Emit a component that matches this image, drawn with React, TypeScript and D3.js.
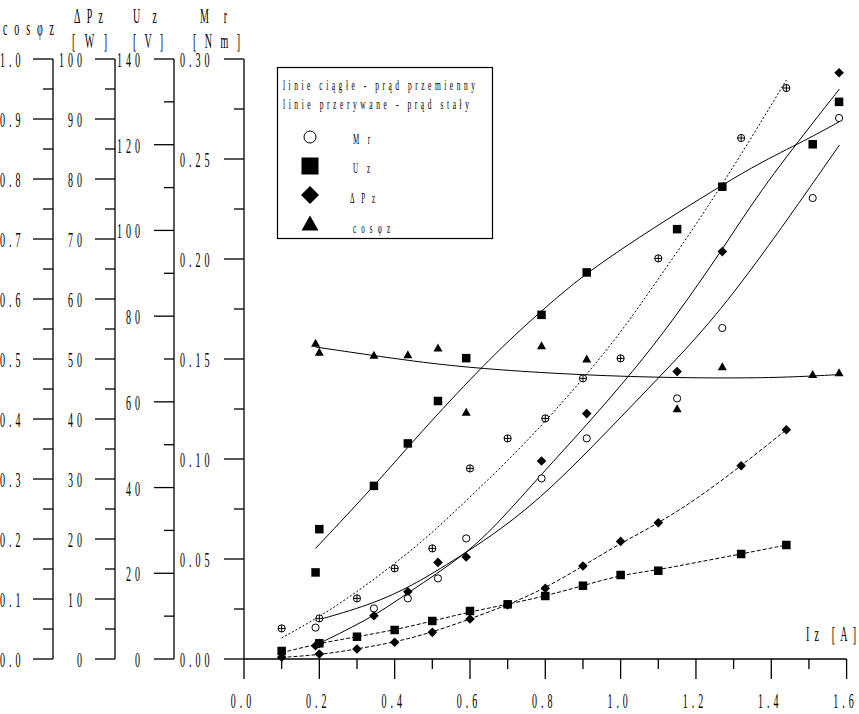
import React from 'react';
import * as d3 from 'd3';

// ---------- measured points: alternating current (AC) ----------
const acIz = [0.19, 0.2, 0.345, 0.435, 0.515, 0.59, 0.79, 0.91, 1.15, 1.27, 1.51, 1.58];
const acUz = [20.2, 30.3, 40.4, 50.3, 60.2, 70.2, 80.3, 90.2, 100.3, 110.2, 120.1, 130.0];
const acMr = [0.0157, null, 0.0253, 0.0303, 0.0403, 0.0603, 0.0903, 0.1103, 0.1303, 0.1655, 0.2305, 0.2705];
const acDPz = [2.2, 2.6, 7.2, 11.2, 16.1, 17.0, 33.0, 40.9, 47.9, 67.9, null, 97.7];
const acCos = [0.527, 0.512, 0.507, 0.508, 0.519, 0.412, 0.523, 0.501, 0.418, 0.488, 0.475, 0.478];

// ---------- measured points: direct current (DC) ----------
const dcIz = [0.1, 0.2, 0.3, 0.4, 0.5, 0.6, 0.7, 0.8, 0.9, 1.0, 1.1, 1.32, 1.44];
const dcUz = [1.87, 3.66, 5.2, 6.77, 8.87, 11.2, 12.76, 14.7, 17.1, 19.6, 20.6, 24.5, 26.6];
const dcMr = [0.0153, 0.0203, 0.0303, 0.0453, 0.0553, 0.0953, 0.1103, 0.1203, 0.1403, 0.1503, 0.2003, 0.2605, 0.2855];
const dcDPz = [0.3, 0.83, 1.67, 2.78, 4.44, 6.67, 9.0, 11.8, 15.5, 19.6, 22.7, 32.2, 38.2];

// ---------- trend curves ----------
const fitUzAcX = [0.19, 0.346, 0.467, 0.627, 0.733, 0.839, 0.91, 1.016, 1.149, 1.27, 1.37, 1.512, 1.581];
const fitUzAcY = [25.8, 40.4, 52.7, 67.8, 76.8, 85.0, 90.0, 96.5, 104.0, 110.6, 115.8, 122.0, 125.4];
const fitMrAcX = [0.19, 0.335, 0.432, 0.503, 0.684, 0.821, 0.963, 1.113, 1.229, 1.37, 1.581];
const fitMrAcY = [0.0192, 0.027, 0.0354, 0.0429, 0.0645, 0.0862, 0.1135, 0.143, 0.166, 0.2, 0.257];
const fitPAcX = [0.19, 0.343, 0.432, 0.591, 0.68, 0.79, 0.91, 1.034, 1.14, 1.27, 1.37, 1.512, 1.581];
const fitPAcY = [2.3, 7.0, 10.9, 17.5, 23.0, 30.8, 39.0, 48.0, 56.5, 68.2, 78.0, 89.5, 95.0];
const fitCosX = [0.19, 0.47, 0.63, 0.84, 1.09, 1.33, 1.46, 1.58];
const fitCosY = [0.52, 0.494, 0.484, 0.475, 0.469, 0.468, 0.47, 0.474];
const fitMrDcX = [0.1, 0.2, 0.3, 0.4, 0.5, 0.6, 0.7, 0.8, 0.9, 1.0, 1.1, 1.2, 1.32, 1.44];
const fitMrDcY = [0.0105, 0.021, 0.0335, 0.0476, 0.063, 0.081, 0.099, 0.1187, 0.14, 0.163, 0.19, 0.217, 0.252, 0.2895];
const fitUzDcX = [0.1, 0.2, 0.3, 0.4, 0.5, 0.6, 0.7, 0.8, 0.9, 1.0, 1.1, 1.193, 1.32, 1.44];
const fitUzDcY = [1.47, 3.66, 5.2, 6.77, 8.87, 11.0, 12.76, 14.7, 17.1, 19.6, 20.8, 22.4, 24.5, 26.6];
const fitPDcX = [0.1, 0.2, 0.3, 0.4, 0.5, 0.6, 0.7, 0.8, 0.9, 1.0, 1.1, 1.21, 1.32, 1.44];
const fitPDcY = [0.28, 0.67, 1.67, 2.78, 4.45, 6.67, 9.0, 11.8, 15.5, 19.3, 22.6, 27.0, 32.2, 38.2];

// ---------- labels ----------
const xTicks = [0, 0.2, 0.4, 0.6, 0.8, 1.0, 1.2, 1.4, 1.6];
const legendLines = ['linie ciągłe - prąd przemienny', 'linie przerywane - prąd stały'];
const legendNames = ['Mr', 'Uz', 'ΔPz', 'cosφz'];

const FONT = "'Liberation Serif', 'DejaVu Serif', serif";

const W = 859, H = 714;
const TOP = 59, BOT = 659;

const x = d3.scaleLinear().domain([0, 1.6]).range([244, 846.6]);
const yCos = d3.scaleLinear().domain([0, 1]).range([BOT, TOP]);
const yP = d3.scaleLinear().domain([0, 100]).range([BOT, TOP]);
const yU = d3.scaleLinear().domain([0, 140]).range([BOT, TOP]);
const yM = d3.scaleLinear().domain([0, 0.3]).range([BOT, TOP]);

function Txt({ x, y, text, fs = 20, sx = 0.5, ls = 0, anchor = 'start', len }: any) {
  const extra: any = {};
  if (len) {
    extra.textLength = len / sx;
    extra.lengthAdjust = 'spacing';
  }
  return (
    <text
      transform={`translate(${x},${y}) scale(${sx},1)`}
      fontFamily={FONT}
      fontSize={fs}
      textAnchor={anchor}
      dominantBaseline="central"
      letterSpacing={ls || undefined}
      fill="#000"
      {...extra}
    >
      {text}
    </text>
  );
}

const Sq = ({ cx, cy, s }: any) => <rect x={cx - s / 2} y={cy - s / 2} width={s} height={s} fill="#000" />;
const Dia = ({ cx, cy, s }: any) => (
  <path d={`M${cx},${cy - s}L${cx + s},${cy}L${cx},${cy + s}L${cx - s},${cy}Z`} fill="#000" />
);
const Tri = ({ cx, cy, w, h }: any) => (
  <path d={`M${cx},${cy - h / 2}L${cx + w / 2},${cy + h / 2}L${cx - w / 2},${cy + h / 2}Z`} fill="#000" />
);
const Circ = ({ cx, cy, r }: any) => <circle cx={cx} cy={cy} r={r} fill="#fff" stroke="#000" strokeWidth={1} />;
const CircX = ({ cx, cy, r }: any) => (
  <g stroke="#000" strokeWidth={1} fill="#fff">
    <circle cx={cx} cy={cy} r={r} />
    <line x1={cx - r} x2={cx + r} y1={cy} y2={cy} />
    <line x1={cx} x2={cx} y1={cy - r} y2={cy + r} />
  </g>
);

function curve(xs: number[], ys: number[], ys2: any) {
  const pts = xs.map((v, i) => [v, ys[i]] as [number, number]);
  return d3
    .line<[number, number]>()
    .x((d) => x(d[0]))
    .y((d) => ys2(d[1]))
    .curve(d3.curveBasis)(pts) as string;
}

function pts(xs: number[], ys: (number | null)[]) {
  return xs.map((v, i) => [v, ys[i]]).filter((d) => d[1] != null) as [number, number][];
}

export default function App() {
  const yAxes = [
    { ax: 53, scale: yCos, max: 1, step: 0.05, fmt: d3.format('.1f'), lx: 0, anchor: 'start' },
    { ax: 115, scale: yP, max: 100, step: 5, fmt: d3.format('d'), lx: 86, anchor: 'end' },
    { ax: 174, scale: yU, max: 140, step: 10, fmt: d3.format('d'), lx: 144, anchor: 'end' },
    { ax: 244, scale: yM, max: 0.3, step: 0.025, fmt: d3.format('.2f'), lx: 180, anchor: 'start' },
  ];

  const lineStyle = { fill: 'none', stroke: '#000', strokeWidth: 1 } as any;

  return (
    <svg
      width={W}
      height={H}
      viewBox={`0 0 ${W} ${H}`}
      style={{ position: 'absolute', left: 0, top: 0, background: '#fff' }}
    >
      <rect x={0} y={0} width={W} height={H} fill="#fff" />

      {/* headers */}
      <Txt x={3} y={28} text="cosφz" fs={20} len={51} />
      <Txt x={74} y={16} text="ΔPz" fs={20} len={29} />
      <Txt x={72} y={41} text="[W]" fs={20} len={35} />
      <Txt x={133} y={16} text="Uz" fs={20} len={24} />
      <Txt x={133} y={41} text="[V]" fs={20} len={30} />
      <Txt x={200} y={16} text="Mr" fs={20} len={27} />
      <Txt x={193} y={41} text="[Nm]" fs={20} len={47} />

      {/* y axes */}
      {yAxes.map((a, ai) => {
        const n = Math.round(a.max / a.step);
        return (
          <g key={ai}>
            <line x1={a.ax} x2={a.ax} y1={TOP} y2={BOT} stroke="#000" strokeWidth={1.3} />
            {d3.range(n + 1).map((k) => {
              const v = k * a.step;
              const yy = a.scale(v);
              const major = k % 2 === 0;
              return (
                <g key={k}>
                  <line x1={a.ax - (major ? 20 : 10)} x2={a.ax} y1={yy} y2={yy} stroke="#000" strokeWidth={1.3} />
                  {major && <Txt x={a.lx} y={yy + 1} text={a.fmt(v)} fs={20} ls={8} anchor={a.anchor} />}
                </g>
              );
            })}
          </g>
        );
      })}

      {/* x axis */}
      <line x1={244} x2={x(1.6)} y1={BOT} y2={BOT} stroke="#000" strokeWidth={1.3} />
      {d3.range(17).map((k) => {
        const v = k / 10;
        const major = k % 2 === 0;
        return (
          <line key={k} x1={x(v)} x2={x(v)} y1={BOT} y2={BOT + (major ? 20 : 10)} stroke="#000" strokeWidth={1.3} />
        );
      })}
      {xTicks.map((v) => (
        <Txt key={v} x={x(v) - 1} y={701} text={d3.format('.1f')(v)} fs={20} ls={8} anchor="middle" />
      ))}
      <Txt x={806} y={634} text="Iz [A]" fs={20} len={50} />

      {/* trend curves */}
      <path d={curve(fitUzAcX, fitUzAcY, yU)} {...lineStyle} />
      <path d={curve(fitMrAcX, fitMrAcY, yM)} {...lineStyle} />
      <path d={curve(fitPAcX, fitPAcY, yP)} {...lineStyle} />
      <path d={curve(fitCosX, fitCosY, yCos)} {...lineStyle} />
      <path d={curve(fitMrDcX, fitMrDcY, yM)} {...lineStyle} strokeDasharray="2,2" />
      <path d={curve(fitUzDcX, fitUzDcY, yU)} {...lineStyle} strokeDasharray="4,2" />
      <path d={curve(fitPDcX, fitPDcY, yP)} {...lineStyle} strokeDasharray="4,2" />

      {/* markers */}
      {pts(acIz, acCos).map(([a, b], i) => (
        <Tri key={'tc' + i} cx={x(a)} cy={yCos(b)} w={9} h={8} />
      ))}
      {pts(acIz, acUz).map(([a, b], i) => (
        <Sq key={'su' + i} cx={x(a)} cy={yU(b)} s={8.5} />
      ))}
      {pts(dcIz, dcUz).map(([a, b], i) => (
        <Sq key={'sd' + i} cx={x(a)} cy={yU(b)} s={8.5} />
      ))}
      {pts(acIz, acDPz).map(([a, b], i) => (
        <Dia key={'da' + i} cx={x(a)} cy={yP(b)} s={4.8} />
      ))}
      {pts(dcIz, dcDPz).map(([a, b], i) => (
        <Dia key={'dd' + i} cx={x(a)} cy={yP(b)} s={4.8} />
      ))}
      {pts(acIz, acMr).map(([a, b], i) => (
        <Circ key={'ca' + i} cx={x(a)} cy={yM(b)} r={3.6} />
      ))}
      {pts(dcIz, dcMr).map(([a, b], i) => (
        <CircX key={'cd' + i} cx={x(a)} cy={yM(b)} r={3.6} />
      ))}

      {/* legend */}
      <rect x={277.5} y={67.5} width={215} height={171} fill="#fff" stroke="#000" strokeWidth={1.2} />
      <Txt x={283} y={85} text={legendLines[0]} fs={15} len={192} />
      <Txt x={283} y={104} text={legendLines[1]} fs={15} len={186} />
      <Circ cx={310} cy={137} r={6} />
      <Sq cx={310} cy={166} s={17} />
      <Dia cx={310} cy={195} s={9} />
      <Tri cx={310} cy={223} w={17} h={15} />
      <Txt x={353} y={139} text={legendNames[0]} fs={14} len={17} />
      <Txt x={353} y={168} text={legendNames[1]} fs={14} len={17} />
      <Txt x={350} y={198} text={legendNames[2]} fs={14} len={25} />
      <Txt x={353} y={228} text={legendNames[3]} fs={14} len={37} />
    </svg>
  );
}
